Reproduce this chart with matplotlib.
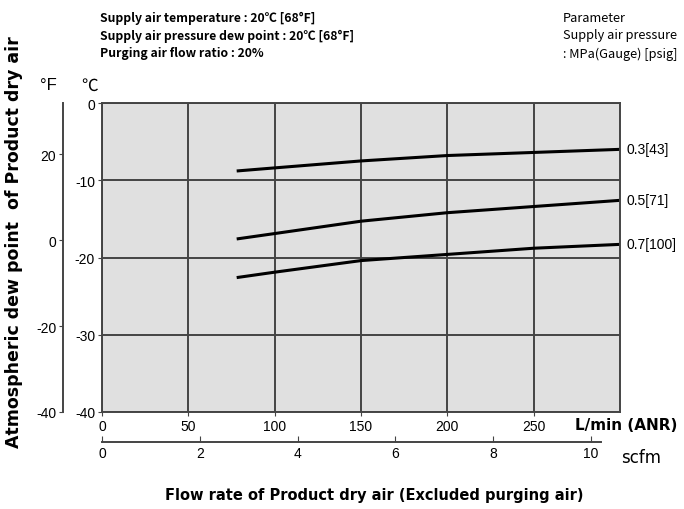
import numpy as np
import matplotlib
matplotlib.use("Agg")
import matplotlib.pyplot as plt

plt.rcParams['font.family'] = ['Liberation Sans', 'DejaVu Sans']
plt.rcParams['axes.unicode_minus'] = False

# flow rate of product dry air, L/min (ANR)
flow = [78, 100, 150, 200, 250, 300]
# dew point, degC, per supply pressure
dew_03 = [-8.8, -8.4, -7.5, -6.8, -6.4, -6.0]
dew_05 = [-17.6, -16.9, -15.3, -14.2, -13.4, -12.6]
dew_07 = [-22.6, -21.9, -20.4, -19.6, -18.8, -18.3]
curve_labels = ["0.3[43]", "0.5[71]", "0.7[100]"]

x_ticks = [0, 50, 100, 150, 200, 250]
c_ticks = [0, -10, -20, -30, -40]
f_ticks = [20, 0, -20, -40]
scfm_ticks = [0, 2, 4, 6, 8, 10]
LPM_PER_SCFM = 28.317

narrow = ["Noto Sans CJK JP", "DejaVu Sans"]
wide = ["DejaVu Sans"]

fig = plt.figure(figsize=(6.84, 5.10), dpi=100)
ax = fig.add_axes([102 / 684, 97 / 510, 518 / 684, 309 / 510])
ax.set_facecolor("#e0e0e0")
ax.set_xlim(0, 300)
ax.set_ylim(-40, 0)
ax.set_xticks(x_ticks)
ax.set_yticks(c_ticks)
ax.grid(True, color="#444444", lw=1.4)
ax.set_axisbelow(True)
for s in ax.spines.values():
    s.set_color("#444444")
    s.set_linewidth(1.4)
ax.tick_params(labelsize=10, length=3, color="#444444", pad=2)

for ys in (dew_03, dew_05, dew_07):
    ax.plot(flow, ys, color="black", lw=2.2, solid_capstyle="butt")

for ys, lab in zip((dew_03, dew_05, dew_07), curve_labels):
    ax.annotate(lab, (300, ys[-1]), xytext=(5, 0), textcoords="offset points",
                va="center", ha="left", fontsize=10, annotation_clip=False)

# Fahrenheit axis on the left
axf = ax.twinx()
axf.set_ylim(-40, 32)
axf.set_yticks(f_ticks)
axf.yaxis.set_ticks_position("left")
axf.yaxis.set_label_position("left")
axf.spines["left"].set_position(("outward", 28))
axf.spines["left"].set_color("#444444")
axf.spines["left"].set_linewidth(1.4)
for k in ("right", "top", "bottom"):
    axf.spines[k].set_visible(False)
axf.tick_params(labelsize=10, length=3, color="#444444", pad=2)

# scfm axis below
axs = ax.secondary_xaxis(-0.097, functions=(lambda v: v / LPM_PER_SCFM,
                                            lambda v: v * LPM_PER_SCFM))
axs.set_xticks(scfm_ticks)
axs.spines["bottom"].set_bounds(0, 10.2)
axs.spines["bottom"].set_color("#444444")
axs.spines["bottom"].set_linewidth(1.4)
axs.tick_params(direction="in", length=4, labelsize=10, color="#444444", pad=3)

fig.text(575 / 684, 1 - 425 / 510, "L/min (ANR)", fontsize=11, weight="bold",
         ha="left", va="center", family=wide)
fig.text(621 / 684, 1 - 458 / 510, "scfm", fontsize=12, ha="left", va="center",
         family=wide)
fig.text(374 / 684, 1 - 496 / 510, "Flow rate of Product dry air (Excluded purging air)",
         fontsize=10.5, weight="bold", ha="center", va="center", family=wide)

fig.text(14 / 684, 1 - 242 / 510, "Atmospheric dew point  of Product dry air",
         rotation=90, fontsize=12.5, weight="bold", ha="center", va="center",
         family=wide)
fig.text(48 / 684, 1 - 86 / 510, "°F", fontsize=12, ha="center", va="center")
fig.text(90 / 684, 1 - 86 / 510, "℃", fontsize=12, ha="center", va="center",
         family=narrow)

header = ["Supply air temperature : 20℃ [68°F]",
          "Supply air pressure dew point : 20℃ [68°F]",
          "Purging air flow ratio : 20%"]
for i, t in enumerate(header):
    fig.text(100 / 684, 1 - (18 + 18 * i) / 510, t, fontsize=8.8, weight="bold",
             ha="left", va="center", family=narrow)
param = ["Parameter", "Supply air pressure", ": MPa(Gauge) [psig]"]
for i, t in enumerate(param):
    fig.text(563 / 684, 1 - (18 + 18 * i) / 510, t, fontsize=9.2,
             ha="left", va="center", family=narrow)

fig.savefig("out.png", dpi=100)
